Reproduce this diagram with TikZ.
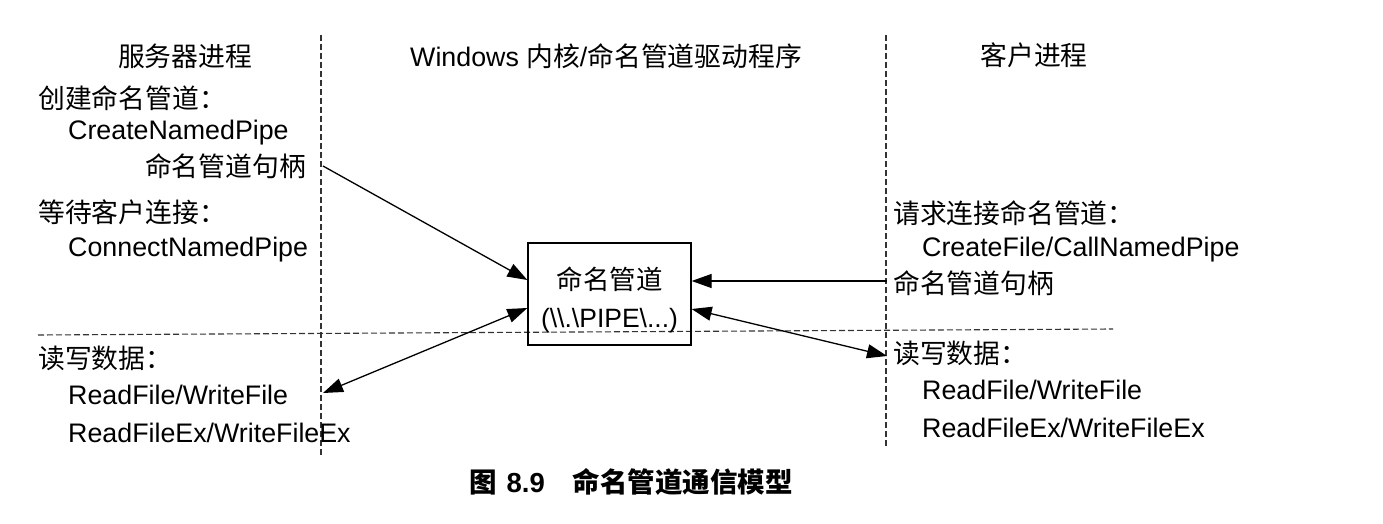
\documentclass[tikz,border=0pt]{standalone}
\usepackage{fontspec}
\setmainfont{Liberation Sans}
\newfontfamily\cjk{Noto Sans CJK SC}
\usetikzlibrary{arrows.meta}
\begin{document}
\begin{tikzpicture}[x=1pt,y=-1pt,
  txt/.style={inner sep=0pt, anchor=west, font=\fontsize{26.8}{30}\selectfont},
  ttl/.style={inner sep=0pt, anchor=center, font=\fontsize{26.8}{30}\selectfont},
  sep/.style={line width=1.1pt, dash pattern=on 6pt off 3pt, black!80},
  pipebox/.style={draw, line width=1.3pt, minimum width=163pt, minimum height=102pt, inner sep=0pt, align=center, font=\fontsize{26.5}{38}\selectfont},
  arr/.style={line width=1.3pt, -{Triangle[length=20pt,width=14pt]}},
  darr/.style={line width=1.3pt, {Triangle[length=20pt,width=14pt]}-{Triangle[length=20pt,width=14pt]}},
  captxt/.style={inner sep=0pt, anchor=center, font=\fontsize{27.5}{30}\selectfont\bfseries}]
\useasboundingbox (0,0) rectangle (1383,524);
\fill[white] (0,0) rectangle (1383,524);
% separators
\coordinate (vl1) at (321,35); \coordinate (vl2) at (321,455);
\coordinate (vr1) at (886,35); \coordinate (vr2) at (886,448);
\coordinate (h1) at (38,335); \coordinate (h2) at (1113,329);
\draw[sep] (vl1) -- (vl2);
\draw[sep] (vr1) -- (vr2);
\draw[sep] (h1) -- (h2);
% titles
\node[ttl] (t1) at (185,56) {\cjk 服务器进程};
\node[ttl] (t2) at (606,56) {Windows {\cjk 内核}/{\cjk 命名管道驱动程序}};
\node[ttl] (t3) at (1034,55) {\cjk 客户进程};
% server side
\node[txt] (l1) at (38,98) {\cjk 创建命名管道：};
\node[txt] (l2) at (68,133) {CreateNamedPipe};
\node[txt, anchor=east] (l3) at (306,166) {\cjk 命名管道句柄};
\node[txt] (l4) at (38,212) {\cjk 等待客户连接：};
\node[txt] (l5) at (68,250) {ConnectNamedPipe};
\node[txt] (l6) at (38,358) {\cjk 读写数据：};
\node[txt] (l7) at (68,395) {ReadFile/WriteFile};
\node[txt] (l8) at (68,433) {ReadFileEx/WriteFileEx};
% client side
\node[txt] (r1) at (893,213) {\cjk 请求连接命名管道：};
\node[txt] (r2) at (922,250) {CreateFile/CallNamedPipe};
\node[txt] (r3) at (893,283) {\cjk 命名管道句柄};
\node[txt] (r4) at (893,353) {\cjk 读写数据：};
\node[txt] (r5) at (922,390) {ReadFile/WriteFile};
\node[txt] (r6) at (922,428) {ReadFileEx/WriteFileEx};
% pipe box
\node[pipebox] (box) at (609.5,294) {\rule{0pt}{35pt}{\cjk 命名管道}\\(\textbackslash\textbackslash.\textbackslash PIPE\textbackslash...)};
% connectors
\coordinate (s1) at (323,166);
\coordinate (s2) at (323,393);
\coordinate (s4) at (887,356);
\draw[arr] (s1) -- ([yshift=14pt]box.west);
\draw[darr] (s2) -- ([yshift=-14pt]box.west);
\draw[arr] ([xshift=-6pt,yshift=2pt]r3.west) -- ([yshift=13pt]box.east);
\draw[darr] ([yshift=-15pt]box.east) -- (s4);
% caption
\node[captxt] (caption) at (631,482) {{\cjk 图}\hspace{10pt}8.9\hspace{28pt}{\cjk 命名管道通信模型}};
\end{tikzpicture}
\end{document}
